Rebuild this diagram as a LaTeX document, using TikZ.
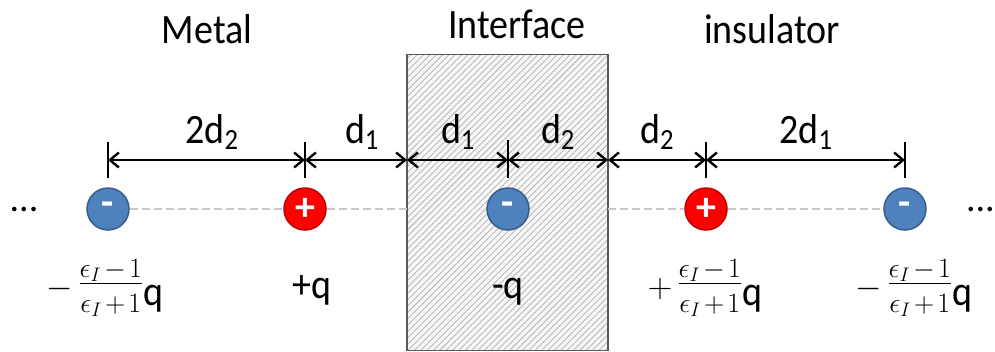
\RequirePackage{fix-cm}
\documentclass[tikz,border=0pt]{standalone}
\usepackage{amsmath}
\usepackage{graphicx}
\usepackage[no-math]{fontspec}
\setmainfont{Carlito}
\usetikzlibrary{arrows.meta,patterns.meta}
\definecolor{negfill}{HTML}{4F81BD}
\definecolor{negdraw}{HTML}{385D8A}
\definecolor{posfill}{HTML}{FF0000}
\definecolor{posdraw}{HTML}{C00000}
\definecolor{guidegray}{HTML}{C8C8C8}
\newcommand\tall[1]{\scalebox{1}[1.1]{#1}}
\newcommand\epsfrac[1]{{\fontsize{34}{34}\selectfont\raisebox{7.5pt}{$#1$}}\hspace{5pt}{\fontsize{28}{32}\selectfont\medmuskip=2mu\raisebox{15pt}{$\frac{\textstyle\epsilon_I-1}{\textstyle\rule{0pt}{28pt}\epsilon_I+1}$}}\tall{q}}
\begin{document}
\begin{tikzpicture}[x=1pt,y=-1pt,
  big/.style={font=\fontsize{38}{44}\selectfont, inner sep=0pt},
  charge/.style={circle, minimum size=42pt, inner sep=0pt, line width=1.5pt, text=white,
    font=\fontsize{40}{40}\selectfont\bfseries},
  negcharge/.style={charge, fill=negfill, draw=negdraw},
  poscharge/.style={charge, fill=posfill, draw=posdraw},
  tickline/.style={line width=2.4pt},
  dim/.style={line width=2.4pt, {Straight Barb[length=9pt,width=15pt]}-{Straight Barb[length=9pt,width=15pt]}},
  guide/.style={draw=guidegray, dash pattern=on 8pt off 4pt, line width=1.8pt},
  fraclabel/.style={big, anchor=base}]
\useasboundingbox (0,0) rectangle (995,351);

% interface slab
\node (iface) [rectangle, draw=black!65, line width=1.6pt, minimum width=201pt, minimum height=296pt,
  inner sep=0pt, preaction={fill=gray!6},
  pattern={Lines[angle=45,distance=4.5pt,line width=0.9pt]}, pattern color=gray!55]
  at (507.5,202.5) {};

% titles
\node (metal) [big, anchor=base] at (207,43) {\tall{Metal}};
\node (interface) [big, anchor=base] at (517,38) {\tall{Interface}};
\node (insul) [big, anchor=base] at (772,43) {\tall{insulator}};

% charges
\node (c1) [negcharge] at (108,209) {\raisebox{1pt}{-}};
\node (c2) [poscharge] at (305,209) {+};
\node (c3) [negcharge] at (508,209) {\raisebox{1pt}{-}};
\node (c4) [poscharge] at (706,209) {+};
\node (c5) [negcharge] at (905,209) {\raisebox{1pt}{-}};

% dashed guide lines
\draw[guide] (c1.east) -- (c2.west);
\draw[guide] (c2.east) -- (iface.west |- c2.east);
\draw[guide] (iface.east |- c4.west) -- (c4.west);
\draw[guide] (c4.east) -- (c5.west);

% dots
\node (ldots) [big, anchor=base] at (24,211) {...};
\node (rdots) [big, anchor=base east] at (995,211) {...};

% ticks
\coordinate (t1a) at (108,142); \coordinate (t1b) at (108,178);
\coordinate (t2a) at (305,142); \coordinate (t2b) at (305,178);
\coordinate (t3a) at (508,140); \coordinate (t3b) at (508,178);
\coordinate (t4a) at (706,142); \coordinate (t4b) at (706,178);
\coordinate (t5a) at (905,142); \coordinate (t5b) at (905,178);
\draw[tickline] (t1a) -- (t1b);
\draw[tickline] (t2a) -- (t2b);
\draw[tickline] (t3a) -- (t3b);
\draw[tickline] (t4a) -- (t4b);
\draw[tickline] (t5a) -- (t5b);

% dimension arrows
\coordinate (a1) at (108,160);
\coordinate (a2) at (305,160);
\coordinate (a3) at (407,160);
\coordinate (a4) at (508,160);
\coordinate (a5) at (608,160);
\coordinate (a6) at (706,160);
\coordinate (a7) at (905,160);
\draw[dim] (a1) -- (a2);
\draw[dim] (a2) -- (a3);
\draw[dim] (a3) -- (a4);
\draw[dim] (a4) -- (a5);
\draw[dim] (a5) -- (a6);
\draw[dim] (a6) -- (a7);

% dimension labels
\node (l1) [big, anchor=base] at (212,143) {\tall{2d\textsubscript{2}}};
\node (l2) [big, anchor=base] at (362,143) {\tall{d\textsubscript{1}}};
\node (l3) [big, anchor=base] at (458,143) {\tall{d\textsubscript{1}}};
\node (l4) [big, anchor=base] at (558,143) {\tall{d\textsubscript{2}}};
\node (l5) [big, anchor=base] at (657,143) {\tall{d\textsubscript{2}}};
\node (l6) [big, anchor=base] at (806,143) {\tall{2d\textsubscript{1}}};

% charge values
\node (q1) [fraclabel] at (105,305) {\epsfrac{-}};
\node (q2) [fraclabel] at (312,298) {\tall{+q}};
\node (q3) [fraclabel] at (508,298) {\tall{-q}};
\node (q4) [fraclabel] at (705,305) {\epsfrac{+}};
\node (q5) [fraclabel] at (914,305) {\epsfrac{-}};
\end{tikzpicture}
\end{document}
